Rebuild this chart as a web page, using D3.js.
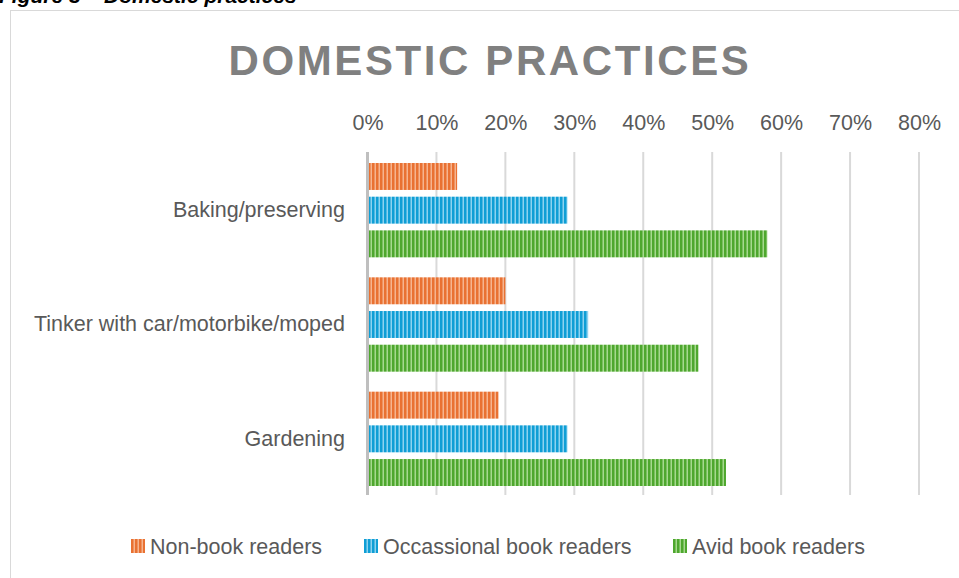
<!DOCTYPE html>
<html>
<head>
<meta charset="utf-8">
<script src="https://cdn.jsdelivr.net/npm/d3@7"></script>
<style>
  body { margin: 0; background: #fff; }
  svg { display: block; font-family: "Liberation Sans", Arial, sans-serif; }
</style>
</head>
<body>
<svg id="chart" width="959" height="578"></svg>
<script>
// Data
var categories = ['Baking/preserving', 'Tinker with car/motorbike/moped', 'Gardening'];
var seriesNames = ['Non-book readers', 'Occassional book readers', 'Avid book readers'];
var nonBook = [0.13, 0.20, 0.19];
var occasional = [0.29, 0.32, 0.29];
var avid = [0.58, 0.48, 0.52];
var xTicks = [0, 0.1, 0.2, 0.3, 0.4, 0.5, 0.6, 0.7, 0.8];

var seriesValues = [nonBook, occasional, avid];
var colors = ['#E97132', '#0F9ED5', '#4EA72E'];
var lights = ['#F6B48F', '#8DD3F0', '#A6D98F'];
var fontSize = 21.5;

var svg = d3.select('#chart');
var defs = svg.append('defs');

// Striped fills (Excel "wide vertical" pattern look)
colors.forEach(function (c, i) {
  var p = defs.append('pattern')
    .attr('id', 'stripe' + i)
    .attr('patternUnits', 'userSpaceOnUse')
    .attr('width', 4)
    .attr('height', 4);
  p.append('rect').attr('width', 4).attr('height', 4).attr('fill', c);
  p.append('rect').attr('x', 2.5).attr('width', 1.5).attr('height', 4).attr('fill', lights[i]);
});

// Caption cut off at top
svg.append('text')
  .attr('x', -1)
  .attr('y', 3)
  .attr('font-size', 21)
  .attr('font-weight', 'bold')
  .attr('font-style', 'italic')
  .attr('fill', '#000')
  .text('Figure 3 \u2013 Domestic practices');

// Chart area border
svg.append('rect')
  .attr('x', 10.5)
  .attr('y', 10.5)
  .attr('width', 970)
  .attr('height', 600)
  .attr('fill', '#fff')
  .attr('stroke', '#d9d9d9');

// Title
svg.append('text')
  .attr('x', 490)
  .attr('y', 75)
  .attr('text-anchor', 'middle')
  .attr('font-size', 42)
  .attr('font-weight', 'bold')
  .attr('letter-spacing', 2.6)
  .attr('fill', '#808080')
  .text('DOMESTIC PRACTICES');

// Scales
var x = d3.scaleLinear().domain([0, 0.8]).range([367.5, 919]);
var y = d3.scaleBand().domain(categories).range([153, 496]);
var yInner = d3.scaleBand()
  .domain(d3.range(seriesNames.length))
  .range([10, y.bandwidth() - 10])
  .paddingInner(0.2);

// Gridlines
svg.append('g')
  .selectAll('line')
  .data(xTicks.slice(1))
  .enter()
  .append('line')
  .attr('x1', function (d) { return x(d); })
  .attr('x2', function (d) { return x(d); })
  .attr('y1', 152)
  .attr('y2', 495)
  .attr('stroke', '#d9d9d9')
  .attr('stroke-width', 2);

// Top tick labels
var xAxis = svg.append('g')
  .attr('transform', 'translate(0,130)')
  .call(d3.axisTop(x).tickValues(xTicks).tickSize(0).tickFormat(d3.format('.0%')));
xAxis.select('.domain').remove();
xAxis.selectAll('text')
  .attr('y', 0)
  .attr('font-size', fontSize)
  .attr('font-family', '"Liberation Sans", Arial, sans-serif')
  .attr('fill', '#595959');

// Bars
var groups = svg.append('g')
  .selectAll('.cat')
  .data(categories)
  .enter()
  .append('g')
  .attr('class', 'cat')
  .attr('transform', function (d) { return 'translate(0,' + y(d) + ')'; });

groups.selectAll('rect')
  .data(function (d, ci) {
    return seriesValues.map(function (vals, si) {
      return { series: si, value: vals[ci] };
    });
  })
  .enter()
  .append('rect')
  .attr('x', x(0))
  .attr('y', function (d) { return yInner(d.series); })
  .attr('width', function (d) { return x(d.value) - x(0); })
  .attr('height', yInner.bandwidth())
  .attr('fill', function (d) { return 'url(#stripe' + d.series + ')'; });

// Vertical axis line at 0%
svg.append('line')
  .attr('x1', x(0))
  .attr('x2', x(0))
  .attr('y1', 152)
  .attr('y2', 495)
  .attr('stroke', '#bfbfbf')
  .attr('stroke-width', 3);

// Category labels
var yAxis = svg.append('g')
  .attr('transform', 'translate(345,0)')
  .call(d3.axisLeft(y).tickSize(0));
yAxis.select('.domain').remove();
yAxis.selectAll('text')
  .attr('x', 0)
  .attr('font-size', fontSize)
  .attr('font-family', '"Liberation Sans", Arial, sans-serif')
  .attr('fill', '#595959');

// Legend
var legendX = [131, 364, 673];
var legend = svg.append('g')
  .selectAll('.legend')
  .data(seriesNames)
  .enter()
  .append('g')
  .attr('class', 'legend')
  .attr('transform', function (d, i) { return 'translate(' + legendX[i] + ',539)'; });
legend.append('rect')
  .attr('width', 14)
  .attr('height', 14)
  .attr('fill', function (d, i) { return 'url(#stripe' + i + ')'; });
legend.append('text')
  .attr('x', 19)
  .attr('y', 14.5)
  .attr('font-size', fontSize)
  .attr('fill', '#595959')
  .text(function (d) { return d; });
</script>
</body>
</html>
